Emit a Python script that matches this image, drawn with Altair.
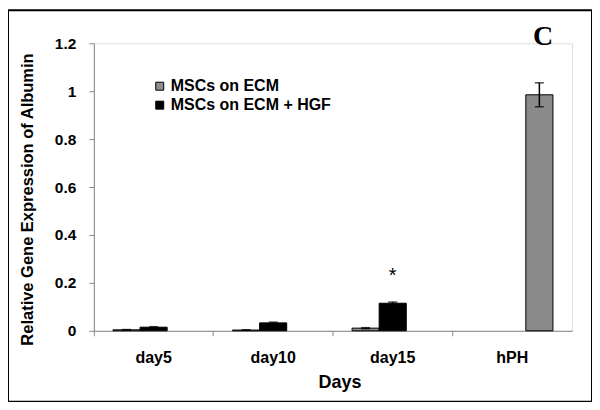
import altair as alt
import pandas as pd

days = ["day5", "day10", "day15", "hPH"]
series = ["MSCs on ECM", "MSCs on ECM + HGF", "hPH"]

ecm_vals = [0.004, 0.003, 0.011]
ecm_errs = [0.001, 0.001, 0.002]
hgf_vals = [0.015, 0.033, 0.115]
hgf_errs = [0.002, 0.003, 0.005]
hph_val = [0.985]
hph_err = [0.05]

colors = ["#8e8e8e", "#000000", "#8a8a8a"]

rows = []
for d, v, e in zip(days[:3], ecm_vals, ecm_errs):
    rows.append({"day": d, "series": series[0], "value": v, "err": e})
for d, v, e in zip(days[:3], hgf_vals, hgf_errs):
    rows.append({"day": d, "series": series[1], "value": v, "err": e})
rows.append({"day": days[3], "series": series[2], "value": hph_val[0], "err": hph_err[0]})
df = pd.DataFrame(rows)
df["lo"] = df["value"] - df["err"]
df["hi"] = df["value"] + df["err"]

star_df = pd.DataFrame({"day": ["day15"], "series": [series[1]], "y": [0.228], "label": ["*"]})

W, H = 479, 288

x_enc = alt.X("day:N", sort=days,
              scale=alt.Scale(domain=days, paddingInner=0, paddingOuter=0),
              axis=alt.Axis(title="Days", labelAngle=0, bandPosition=0,
                            labelFont="Liberation Sans", labelFontWeight="bold",
                            labelFontSize=16, labelColor="black", labelPadding=14,
                            tickColor="#888888", tickSize=5, domainColor="#888888",
                            titleFont="Liberation Sans", titleFontSize=18,
                            titleFontWeight="bold", titleColor="black",
                            titleX=246, titleY=52, titleBaseline="middle"))
xo_enc = alt.XOffset("series:N", scale=alt.Scale(domain=series, paddingOuter=0.705, paddingInner=0))

base = alt.Chart(df)

bars = base.mark_bar(stroke="black", strokeWidth=1).encode(
    x=x_enc,
    xOffset=xo_enc,
    y=alt.Y("value:Q",
            scale=alt.Scale(domain=[0, 1.2], nice=False),
            axis=alt.Axis(title="Relative Gene Expression of Albumin",
                          values=[0, 0.2, 0.4, 0.6, 0.8, 1.0, 1.2], format="~g",
                          grid=False, labelFont="Liberation Sans", labelFontWeight="bold",
                          labelFontSize=15.5, labelColor="black", labelPadding=13,
                          tickColor="#888888", tickSize=5, domainColor="#888888",
                          titleFont="Liberation Sans", titleFontSize=16.5,
                          titleFontWeight="bold", titleColor="black",
                          titleX=-66, titleY=156, titleAngle=270,
                          titleAlign="center", titleBaseline="middle")),
    color=alt.Color("series:N",
                    scale=alt.Scale(domain=series, range=colors),
                    legend=alt.Legend(title=None, values=series[:2], orient="none",
                                      legendX=58, legendY=35, padding=0,
                                      symbolType="square", symbolSize=64,
                                      symbolStrokeColor="black", symbolStrokeWidth=1,
                                      labelFont="Liberation Sans", labelFontWeight="bold",
                                      labelFontSize=16, labelColor="black", labelLimit=400,
                                      labelOffset=3, rowPadding=3)),
)

err_rule = base.mark_rule(color="black", strokeWidth=1.5).encode(
    x=alt.X("day:N", sort=days), xOffset="series:N",
    y="lo:Q", y2="hi:Q")

caps_hi = base.mark_tick(color="black", thickness=1.5, size=9, orient="horizontal").encode(
    x=alt.X("day:N", sort=days), xOffset="series:N", y="hi:Q")
caps_lo = base.mark_tick(color="black", thickness=1.5, size=9, orient="horizontal").encode(
    x=alt.X("day:N", sort=days), xOffset="series:N", y="lo:Q")

star = alt.Chart(star_df).mark_text(fontSize=20, font="Liberation Sans", baseline="middle").encode(
    x=alt.X("day:N", sort=days), xOffset="series:N", y="y:Q", text="label:N")

deco = pd.DataFrame({"t": ["C"]})
letter = alt.Chart(deco).mark_text(font="Liberation Serif", fontWeight="bold",
                                   fontSize=28, baseline="middle", align="center").encode(
    x=alt.value(450), y=alt.value(-6), text="t:N")
frame = alt.Chart(deco).mark_rect(fill=None, fillOpacity=0, stroke="black", strokeWidth=2).encode(
    x=alt.value(-86), x2=alt.value(499), y=alt.value(-33), y2=alt.value(359))

chart = alt.layer(bars, err_rule, caps_hi, caps_lo, star, letter, frame).properties(
    width=W, height=H,
    autosize=alt.AutoSizeParams(type="none"),
    padding={"left": 86, "top": 35, "right": 20, "bottom": 71},
).configure_view(stroke=None).configure(background="white")

chart.save("out.html", embed_options={"renderer": "svg", "actions": False})
